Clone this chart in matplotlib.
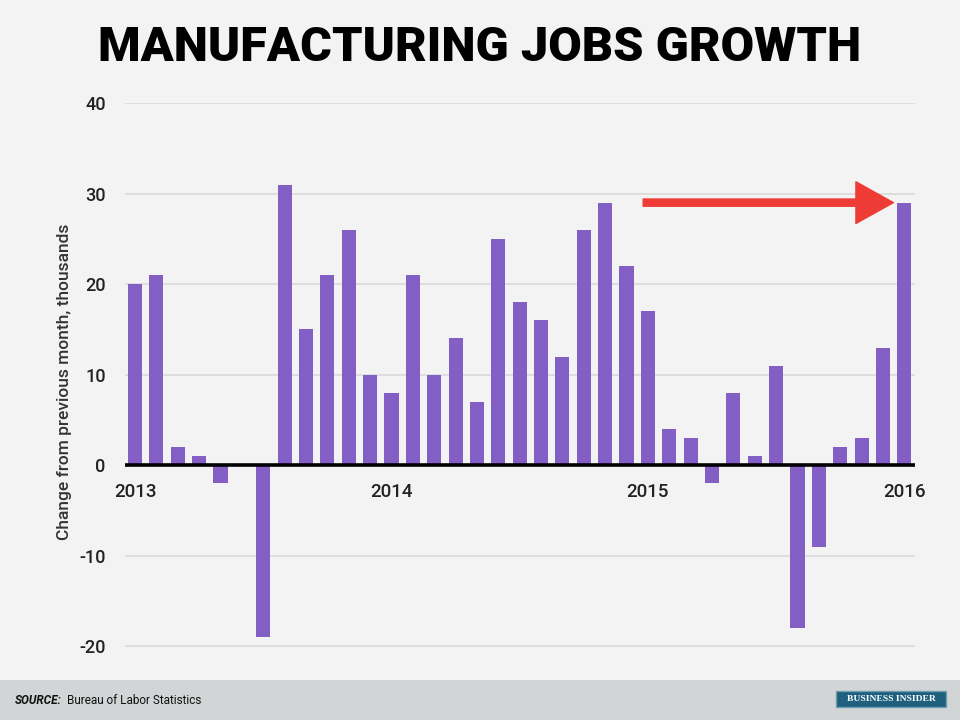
import matplotlib.pyplot as plt
from matplotlib.patches import Rectangle

# monthly change in manufacturing jobs, Jan 2013 .. Jan 2016 (thousands)
values = [20, 21, 2, 1, -2, 0, -19, 31, 15, 21, 26, 10,
          8, 21, 10, 14, 7, 25, 18, 16, 12, 26, 29, 22,
          17, 4, 3, -2, 8, 1, 11, -18, -9, 2, 3, 13,
          29]
year_labels = ['2013', '2014', '2015', '2016']
year_idx = [0, 12, 24, 36]
y_ticks = [-20, -10, 0, 10, 20, 30, 40]

bg = '#f3f3f3'
bar_color = '#835fc5'

fig = plt.figure(figsize=(9.6, 7.2), dpi=100, facecolor=bg)
ax = fig.add_axes([125 / 960, 1 - 660 / 720, 790 / 960, 557 / 720])
ax.set_facecolor(bg)

x = list(range(len(values)))
ax.bar(x, values, width=0.66, color=bar_color, zorder=3)

ax.set_xlim(-0.47, len(values) - 0.5)
ax.set_ylim(-21.5, 40)
ax.set_yticks(y_ticks)
ax.set_yticklabels([str(v) for v in y_ticks], fontsize=13, color='#222222',
                   family='Roboto', fontweight='medium')
ax.yaxis.grid(True, color='#d9d9d9', linewidth=1.2, zorder=0)
ax.tick_params(axis='y', length=0, pad=14)
ax.tick_params(axis='x', length=0)
ax.set_xticks([])
for s in ax.spines.values():
    s.set_visible(False)
ax.axhline(0, color='black', linewidth=2.6, zorder=4)

for i, lab in zip(year_idx, year_labels):
    ax.text(i, -2.9, lab, ha='center', va='center', fontsize=13.5,
            color='#222222', family='Roboto', fontweight='medium', zorder=5)

ax.set_ylabel('Change from previous month, thousands', fontsize=12.5,
              color='#333333', family='Roboto', fontweight='medium', labelpad=5)

# red arrow pointing at the latest bar
ax.annotate('', xy=(35.49, values[-1]), xytext=(23.78, values[-1]),
            arrowprops=dict(width=5.2, headwidth=30, headlength=27,
                            color='#ef3b36', shrink=0),
            zorder=6)

fig.text(0.5, 1 - 48 / 720, 'MANUFACTURING JOBS GROWTH', ha='center', va='center',
         fontsize=35, fontweight='heavy', family='Roboto', color='black')

# footer band
fig.patches.append(Rectangle((0, 0), 1, 40 / 720, transform=fig.transFigure,
                             facecolor='#d1d5d5', edgecolor='none', zorder=0))
fig.text(15 / 960, 20 / 720, 'SOURCE:', fontsize=8.5, fontweight='bold', style='italic',
         family='Roboto', va='center', color='#111111')
fig.text(67 / 960, 20 / 720, 'Bureau of Labor Statistics', fontsize=8.5,
         family='Roboto', va='center', color='#111111')
fig.patches.append(Rectangle((836 / 960, 13 / 720), 110 / 960, 16 / 720,
                             transform=fig.transFigure, facecolor='#20607f',
                             edgecolor='#6f9db3', linewidth=1, zorder=1))
fig.text(891 / 960, 21 / 720, 'BUSINESS INSIDER', fontsize=6.8, fontweight='bold',
         family='Liberation Serif', ha='center', va='center', color='white', zorder=2)

fig.savefig('out.png', dpi=100, facecolor=bg)
